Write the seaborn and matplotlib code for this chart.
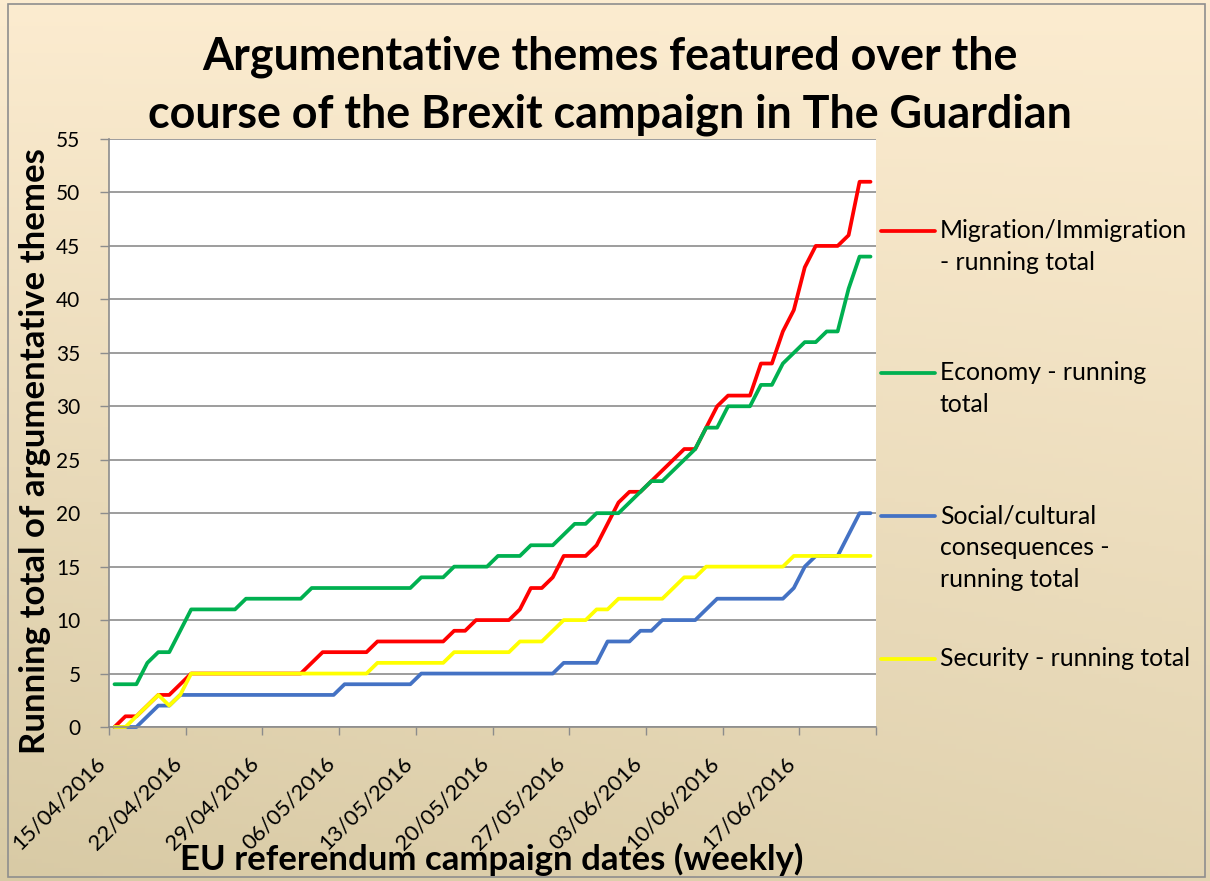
import numpy as np
import pandas as pd
import matplotlib
matplotlib.use("Agg")
import matplotlib.pyplot as plt
from matplotlib.lines import Line2D
from matplotlib.patches import Rectangle
from matplotlib.transforms import ScaledTranslation
import seaborn as sns

# daily running totals, 15/04/2016 - 23/06/2016
start_date = "2016-04-15"

migration = [0, 1, 1, 2, 3, 3, 4,
             5, 5, 5, 5, 5, 5, 5, 5, 5, 5, 5,
             6, 7, 7, 7, 7, 7,
             8, 8, 8, 8, 8, 8, 8,
             9, 9, 10, 10, 10, 10, 11, 13, 13, 14,
             16, 16, 16, 17, 19, 21, 22, 22, 23, 24, 25, 26, 26,
             28, 30, 31, 31, 31, 34, 34, 37, 39, 43,
             45, 45, 45, 46, 51, 51]
economy = [4, 4, 4, 6, 7, 7, 9,
           11, 11, 11, 11, 11,
           12, 12, 12, 12, 12, 12,
           13, 13, 13, 13, 13, 13, 13, 13, 13, 13,
           14, 14, 14, 15, 15, 15, 15, 16, 16, 16, 17, 17, 17,
           18, 19, 19, 20, 20, 20, 21, 22, 23, 23, 24, 25, 26,
           28, 28, 30, 30, 30, 32, 32, 34, 35, 36,
           36, 37, 37, 41, 44, 44]
social = [0, 0, 0, 1, 2, 2,
          3, 3, 3, 3, 3, 3, 3, 3, 3, 3, 3, 3, 3, 3, 3,
          4, 4, 4, 4, 4, 4, 4,
          5, 5, 5, 5, 5, 5, 5, 5, 5, 5, 5, 5, 5,
          6, 6, 6, 6, 8, 8, 8, 9, 9, 10, 10, 10, 10,
          11, 12, 12, 12, 12, 12, 12, 12, 13, 15,
          16, 16, 16, 18, 20, 20]
security = [0, 0, 1, 2, 3, 2, 3,
            5, 5, 5, 5, 5, 5, 5, 5, 5, 5, 5, 5, 5, 5, 5, 5, 5,
            6, 6, 6, 6, 6, 6, 6,
            7, 7, 7, 7, 7, 7, 8, 8, 8, 9,
            10, 10, 10, 11, 11, 12, 12, 12, 12, 12, 13, 14, 14,
            15, 15, 15, 15, 15, 15, 15, 15, 16, 16,
            16, 16, 16, 16, 16, 16]

themes = ["Migration/Immigration - running total", "Economy - running total",
          "Social/cultural consequences - running total", "Security - running total"]
legend_rows = [["Migration/Immigration", "- running total"],
               ["Economy - running", "total"],
               ["Social/cultural", "consequences -", "running total"],
               ["Security - running total"]]
colors = ["#FF0000", "#00B050", "#4472C4", "#FFFF00"]
y_ticks = list(range(0, 56, 5))

W, H = 1210, 881

dates = pd.date_range(start_date, periods=len(migration), freq="D") + pd.Timedelta(hours=12)
df = pd.DataFrame({"date": dates, themes[0]: migration, themes[1]: economy,
                   themes[2]: social, themes[3]: security})
long_df = df.melt(id_vars="date", var_name="theme", value_name="total")

sns.set_theme(style="white")
plt.rcParams["font.family"] = ["Lato", "DejaVu Sans"]
plt.rcParams["text.color"] = "black"

fig = plt.figure(figsize=(W / 100, H / 100), dpi=100)

# beige gradient background
bg = fig.add_axes([0, 0, 1, 1], zorder=-10)
yy, xx = np.mgrid[0:1:200j, 0:1:200j]
t = yy * (0.7 + 0.3 * (1 - xx))
top = np.array([252, 236, 208]) / 255
bottom = np.array([216, 202, 165]) / 255
img = top[None, None, :] * (1 - t[..., None]) + bottom[None, None, :] * t[..., None]
bg.imshow(img, aspect="auto", extent=[0, 1, 0, 1], origin="upper")
bg.set_axis_off()
fig.add_artist(Rectangle((8 / W, 1 - 877 / H), 1197 / W, 873 / H, transform=fig.transFigure,
                         fill=False, edgecolor="#8E8E8E", linewidth=1.2))

ax = fig.add_axes([109 / W, 1 - 727 / H, (876 - 109) / W, (727 - 139) / H])
ax.set_facecolor("white")
sns.lineplot(data=long_df, x="date", y="total", hue="theme", hue_order=themes,
             palette=colors, linewidth=2.7, legend=False, ax=ax, clip_on=False,
             solid_joinstyle="round", solid_capstyle="round")

week_ticks = pd.date_range(start_date, periods=11, freq="7D")
ax.set_xlim(week_ticks[0], week_ticks[-1])
ax.set_xticks(week_ticks)
ax.set_xticklabels([d.strftime("%d/%m/%Y") for d in week_ticks[:-1]] + [""],
                   rotation=45, ha="right", va="top", fontsize=15.8)
for lbl in ax.get_xticklabels():
    lbl.set_transform(lbl.get_transform() + ScaledTranslation(0.14, 0, fig.dpi_scale_trans))

ax.set_ylim(0, 55)
ax.set_yticks(y_ticks)
ax.set_yticklabels([str(v) for v in y_ticks], fontsize=15)
ax.tick_params(axis="y", left=True, length=6.5, width=1, color="#8C8C8C", pad=14, labelcolor="black")
ax.tick_params(axis="x", bottom=True, length=6, width=1, color="#8C8C8C", pad=13, labelcolor="black")
ax.yaxis.grid(True, color="#8C8C8C", linewidth=1.2)
ax.xaxis.grid(False)
ax.set_axisbelow(True)
for side in ["top", "right"]:
    ax.spines[side].set_visible(False)
for side in ["left", "bottom"]:
    ax.spines[side].set_color("#8C8C8C")
    ax.spines[side].set_linewidth(1.2)
ax.set_xlabel("")
ax.set_ylabel("")

# titles
fig.text(610 / W, 1 - 70 / H, "Argumentative themes featured over the", ha="center",
         va="baseline", fontsize=32.3, fontweight="bold")
fig.text(610 / W, 1 - 128 / H, "course of the Brexit campaign in The Guardian", ha="center",
         va="baseline", fontsize=32.3, fontweight="bold")
fig.text(35 / W, 1 - 451 / H, "Running total of argumentative themes", rotation=90,
         ha="center", va="center", fontsize=25, fontweight="bold")
fig.text(492 / W, 1 - 870 / H, "EU referendum campaign dates (weekly)", ha="center",
         va="baseline", fontsize=25, fontweight="bold")

# legend
legend_y = [231, 373, 516, 659]
for rows, color, ly in zip(legend_rows, colors, legend_y):
    fig.add_artist(Line2D([881 / W, 935 / W], [1 - ly / H, 1 - ly / H], transform=fig.transFigure,
                          color=color, linewidth=2.7))
    for i, row in enumerate(rows):
        fig.text(940 / W, 1 - (ly + i * 31.7) / H, row, ha="left", va="center", fontsize=17.8)

fig.savefig("out.png", dpi=100)
